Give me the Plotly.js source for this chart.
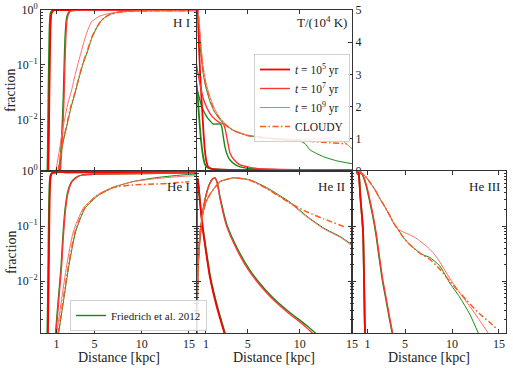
<!DOCTYPE html>
<html>
<head>
<meta charset="utf-8">
<script src="https://cdn.plot.ly/plotly-3.0.1.min.js"></script>
<style>
  html, body { margin: 0; padding: 0; background: #fff; }
  #chart { width: 513px; height: 368px; }
</style>
</head>
<body>
<div id="chart"></div>
<script>
// ---------------- data ----------------

// H I fraction (top left)
const hiRed5X = [0.12, 0.18, 0.24, 0.3, 0.36, 0.45, 0.6, 0.8, 1.2, 15.8];
const hiRed5Y = [0.0011, 0.004, 0.03, 0.15, 0.5, 0.85, 0.96, 0.99, 1.0, 1.0];
const hiGrn5X = [0.03, 0.08, 0.14, 0.2, 0.26, 0.35, 0.5, 0.7, 1.1, 15.8];
const hiGrn5Y = [0.0011, 0.004, 0.03, 0.15, 0.5, 0.85, 0.96, 0.99, 1.0, 1.0];
const hiRed7X = [1.4, 1.55, 1.7, 1.8, 1.88, 1.97, 2.1, 2.3, 2.6, 3.2, 15.8];
const hiRed7Y = [0.0011, 0.003, 0.01, 0.03, 0.1, 0.3, 0.65, 0.88, 0.97, 0.99, 1.0];
const hiGrn7X = [1.32, 1.47, 1.62, 1.72, 1.8, 1.89, 2.02, 2.22, 2.52, 3.1, 15.8];
const hiGrn7Y = [0.0011, 0.003, 0.01, 0.03, 0.1, 0.3, 0.65, 0.88, 0.97, 0.99, 1.0];
const hiRed9X = [0.93, 1.3, 1.7, 2.2, 2.6, 3.0, 3.46, 3.8, 4.17, 4.7, 5.6, 7.0, 9.0, 12, 15.8];
const hiRed9Y = [0.00115, 0.0028, 0.0074, 0.02, 0.035, 0.07, 0.14, 0.23, 0.376, 0.61, 0.78, 0.89, 0.95, 0.97, 0.97];
const hiGrn9X = [1.18, 1.6, 2.06, 2.5, 2.94, 3.4, 3.81, 4.3, 4.7, 5.23, 5.75, 6.45, 7.7, 9.8, 12.5, 15.8];
const hiGrn9Y = [0.00115, 0.0033, 0.0074, 0.016, 0.03, 0.06, 0.107, 0.18, 0.3, 0.47, 0.64, 0.81, 0.93, 0.97, 0.97, 0.97];
const hiCldX = [1.15, 1.6, 2.06, 2.5, 2.94, 3.4, 3.81, 4.3, 4.7, 5.23, 5.75, 6.45, 7.7, 9.8, 12.5, 15];
const hiCldY = [0.00115, 0.0034, 0.0077, 0.017, 0.031, 0.062, 0.11, 0.19, 0.31, 0.48, 0.65, 0.8, 0.92, 0.96, 0.965, 0.97];

// temperature in 10^4 K (top middle)
const tRed5X = [0.2, 0.3, 0.45, 0.6, 0.75, 0.9, 1.05, 1.22, 1.5, 2.0, 4, 8, 15.1];
const tRed5Y = [5.3, 4.2, 3.0, 2.15, 1.3, 0.65, 0.3, 0.13, 0.07, 0.05, 0.03, 0.03, 0.03];
const tGrn5X = [0.1, 0.2, 0.3, 0.42, 0.55, 0.74, 0.9, 1.07, 1.4, 1.7, 4, 8, 15.1];
const tGrn5Y = [2.72, 2.4, 1.9, 1.38, 0.9, 0.44, 0.22, 0.13, 0.08, 0.06, 0.03, 0.03, 0.03];
const tRed7X = [0.1, 0.42, 0.8, 1.38, 1.9, 2.35, 2.67, 2.85, 2.99, 3.15, 3.31, 3.7, 4.27, 5.87, 10, 15.1];
const tRed7Y = [3.3, 2.72, 2.2, 1.79, 1.6, 1.5, 1.46, 1.3, 1.07, 0.8, 0.55, 0.35, 0.19, 0.08, 0.04, 0.03];
const tGrn7X = [0.1, 0.26, 0.6, 1.07, 1.7, 2.35, 2.5, 2.65, 2.82, 3.05, 3.31, 3.8, 4.27, 5.87, 10, 15.1];
const tGrn7Y = [2.6, 2.41, 2.0, 1.69, 1.46, 1.46, 1.4, 1.1, 0.76, 0.5, 0.34, 0.2, 0.13, 0.06, 0.03, 0.03];
const tRed9X = [0.26, 0.5, 0.74, 1.0, 1.38, 1.8, 2.35, 3.0, 3.63, 4.91, 7.47, 10.04, 12, 13.2, 14.2, 15.07];
const tRed9Y = [5.0, 4.0, 3.24, 2.75, 2.31, 1.95, 1.64, 1.42, 1.27, 1.12, 1.01, 0.98, 1.0, 1.03, 0.91, 0.67];
const tGrn9X = [0.3, 0.5, 0.75, 1.0, 1.4, 1.8, 2.4, 3.0, 3.7, 5.0, 7.5, 10.0, 10.5, 11.0, 12.3, 13.5, 15.1];
const tGrn9Y = [4.6, 3.7, 3.0, 2.6, 2.15, 1.85, 1.58, 1.4, 1.25, 1.1, 1.0, 0.93, 0.85, 0.65, 0.44, 0.32, 0.22];
const tCldX = [0.3, 0.5, 0.75, 1.0, 1.4, 1.8, 2.4, 3.0, 3.7, 5.0, 7.5, 10.0, 12.0, 14.5];
const tCldY = [4.8, 3.8, 3.1, 2.65, 2.2, 1.88, 1.6, 1.4, 1.25, 1.1, 1.0, 0.94, 0.9, 0.84];

// He I fraction (bottom left)
const heiRed5X = [0.08, 0.14, 0.2, 0.26, 0.32, 0.4, 0.5, 0.7, 1.0, 2, 15.8];
const heiRed5Y = [0.0011, 0.005, 0.04, 0.25, 0.6, 0.82, 0.9, 0.93, 0.95, 0.95, 0.97];
const heiGrn5X = [0.02, 0.08, 0.14, 0.2, 0.26, 0.34, 0.44, 0.64, 0.94, 2, 15.8];
const heiGrn5Y = [0.0011, 0.005, 0.04, 0.25, 0.6, 0.82, 0.9, 0.93, 0.95, 0.95, 0.97];
const heiRed7X = [0.93, 1.2, 1.53, 1.7, 1.88, 2.05, 2.23, 2.5, 2.76, 3.3, 3.81, 5.58, 10, 15.8];
const heiRed7Y = [0.0011, 0.004, 0.019, 0.06, 0.155, 0.28, 0.42, 0.58, 0.68, 0.8, 0.85, 0.88, 0.9, 0.93];
const heiGrn7X = [0.88, 1.15, 1.48, 1.65, 1.83, 2.0, 2.18, 2.45, 2.71, 3.25, 3.76, 5.5, 10, 15.8];
const heiGrn7Y = [0.0011, 0.004, 0.019, 0.06, 0.155, 0.28, 0.42, 0.58, 0.68, 0.8, 0.85, 0.88, 0.9, 0.93];
const heiRed9X = [1.0, 1.53, 2.06, 2.76, 3.81, 5.23, 6.98, 9.09, 11.56, 14.73, 15.8];
const heiRed9Y = [0.0011, 0.0046, 0.019, 0.078, 0.21, 0.36, 0.51, 0.64, 0.73, 0.81, 0.82];
const heiGrn9X = [1.2, 1.75, 2.3, 3.0, 4.0, 5.4, 7.1, 9.2, 11.6, 14.7, 15.8];
const heiGrn9Y = [0.0011, 0.0046, 0.019, 0.078, 0.21, 0.36, 0.51, 0.65, 0.76, 0.86, 0.88];
const heiCldX = [1.15, 1.7, 2.25, 2.95, 3.95, 5.3, 7.0, 9.1, 11.5, 13.0, 15.0];
const heiCldY = [0.0011, 0.0046, 0.019, 0.078, 0.21, 0.36, 0.5, 0.56, 0.58, 0.6, 0.64];

// He II fraction (bottom middle)
const heiiRed5X = [0.1, 0.13, 0.16, 0.22, 0.35, 0.5, 0.68, 1.0, 1.38, 2.03, 2.5, 2.8];
const heiiRed5Y = [0.0011, 0.05, 0.7, 0.72, 0.4, 0.2, 0.095, 0.035, 0.012, 0.0035, 0.0017, 0.0011];
const heiiGrn5X = [0.1, 0.13, 0.16, 0.22, 0.36, 0.52, 0.7, 1.03, 1.42, 2.08, 2.55, 2.85];
const heiiGrn5Y = [0.0011, 0.05, 0.7, 0.72, 0.4, 0.2, 0.095, 0.035, 0.012, 0.0035, 0.0017, 0.0011];
const heiiRed7X = [0.1, 0.2, 0.35, 0.55, 0.74, 1.07, 1.38, 1.65, 1.87, 2.1, 2.35, 2.99, 3.95, 5.07, 5.87, 7.15, 8.76, 10.36, 11.3];
const heiiRed7Y = [0.004, 0.012, 0.04, 0.1, 0.2, 0.4, 0.6, 0.72, 0.75, 0.6, 0.32, 0.1, 0.038, 0.016, 0.01, 0.0053, 0.0028, 0.0016, 0.0011];
const heiiGrn7X = [0.1, 0.2, 0.35, 0.55, 0.74, 1.07, 1.38, 1.65, 1.87, 2.1, 2.38, 3.05, 4.05, 5.2, 6.0, 7.3, 8.95, 10.6, 11.6];
const heiiGrn7Y = [0.004, 0.012, 0.04, 0.1, 0.2, 0.4, 0.6, 0.72, 0.75, 0.6, 0.32, 0.1, 0.038, 0.016, 0.01, 0.0053, 0.0028, 0.0016, 0.0011];
const heiiRed9X = [0.12, 0.2, 0.3, 0.45, 0.7, 1.0, 1.4, 2.35, 3.63, 5.23, 6.83, 9.08, 10.7, 12.3, 13.9, 15.0];
const heiiRed9Y = [0.0011, 0.006, 0.03, 0.08, 0.17, 0.27, 0.38, 0.64, 0.75, 0.68, 0.48, 0.26, 0.145, 0.089, 0.062, 0.044];
const heiiGrn9X = [0.12, 0.2, 0.3, 0.45, 0.7, 1.0, 1.4, 2.35, 3.63, 5.23, 6.83, 9.08, 10.7, 12.3, 13.9, 15.0];
const heiiGrn9Y = [0.0011, 0.006, 0.03, 0.08, 0.17, 0.27, 0.38, 0.64, 0.75, 0.69, 0.5, 0.27, 0.15, 0.092, 0.064, 0.046];
const heiiCldX = [0.12, 0.2, 0.3, 0.45, 0.7, 1.0, 1.4, 2.35, 3.63, 5.23, 6.83, 9.08, 10.7, 12.3, 14.4];
const heiiCldY = [0.0011, 0.006, 0.03, 0.08, 0.17, 0.27, 0.38, 0.64, 0.75, 0.68, 0.48, 0.26, 0.18, 0.135, 0.095];

// He III fraction (bottom right)
const heiiiRed5X = [0, 0.1, 0.25, 0.4, 0.53, 0.62, 0.7, 0.75];
const heiiiRed5Y = [1, 0.8, 0.32, 0.16, 0.078, 0.015, 0.002, 0.0011];
const heiiiGrn5X = [0, 0.1, 0.25, 0.4, 0.53, 0.62, 0.7, 0.75];
const heiiiGrn5Y = [1, 0.8, 0.32, 0.16, 0.078, 0.015, 0.002, 0.0011];
const heiiiRed7X = [0, 0.18, 0.5, 0.89, 1.25, 1.6, 1.95, 2.31, 2.65, 3.02, 3.4, 3.72];
const heiiiRed7Y = [1, 0.98, 0.85, 0.55, 0.3, 0.155, 0.07, 0.025, 0.01, 0.0046, 0.002, 0.00105];
const heiiiGrn7X = [0, 0.16, 0.46, 0.84, 1.2, 1.55, 1.9, 2.26, 2.6, 2.97, 3.35, 3.67];
const heiiiGrn7Y = [1, 0.98, 0.85, 0.55, 0.3, 0.155, 0.07, 0.025, 0.01, 0.0046, 0.002, 0.00105];
const heiiiRed9X = [0, 0.18, 0.7, 1.24, 1.8, 2.31, 2.85, 3.37, 3.8, 4.26, 5.15, 6.0, 6.56, 7.3, 7.98, 8.7, 9.4, 10.1, 10.8, 11.9, 12.9, 14.0];
const heiiiRed9Y = [1, 0.977, 0.83, 0.63, 0.457, 0.316, 0.224, 0.155, 0.112, 0.087, 0.074, 0.063, 0.054, 0.043, 0.033, 0.0224, 0.0141, 0.0093, 0.0062, 0.0035, 0.002, 0.00105];
const heiiiGrn9X = [0, 0.18, 0.7, 1.24, 1.8, 2.31, 2.85, 3.37, 3.8, 4.26, 4.8, 5.4, 6.0, 6.74, 7.63, 8.69, 9.76, 10.8, 11.9, 12.9];
const heiiiGrn9Y = [1, 0.977, 0.83, 0.63, 0.457, 0.316, 0.224, 0.155, 0.112, 0.087, 0.063, 0.048, 0.039, 0.031, 0.027, 0.019, 0.0093, 0.0052, 0.0025, 0.00105];
const heiiiCldX = [0.1, 0.7, 1.24, 1.8, 2.31, 2.85, 3.37, 3.8, 4.26, 4.8, 5.4, 6.0, 6.74, 7.63, 8.69, 9.76, 10.8, 11.5, 12.9, 14.0, 14.7];
const heiiiCldY = [0.99, 0.83, 0.63, 0.457, 0.316, 0.224, 0.155, 0.112, 0.087, 0.063, 0.048, 0.039, 0.031, 0.025, 0.0166, 0.01, 0.0063, 0.0046, 0.0026, 0.0018, 0.0014];

// tick labels
const xTicks = [1, 5, 10, 15];
const logTicks = [0.01, 0.1, 1];
const logTickText = ['10<sup>−2</sup>', '10<sup>−1</sup>', '10<sup>0</sup>'];
const tTicks = [0, 1, 2, 3, 4, 5];


//---------------------------------------------------------------------------------------------------------------//


const serif = 'Liberation Serif';

// line styles for the three epochs, the reference code and CLOUDY
const styles = {
  red5: { color: '#ff0000', width: 1.8 },
  red7: { color: '#ff3636', width: 1.4 },
  red9: { color: '#ff6a6a', width: 1 },
  grn5: { color: '#138a13', width: 1.8 },
  grn7: { color: '#138a13', width: 1.4 },
  grn9: { color: '#138a13', width: 1 },
  cld: { color: '#ff5a1a', width: 1.5, dash: '6px,2.5px,1.5px,2.5px' }
};

const traces = [];

// make one line trace on the given axes
const addLine = (x, y, axis, style, extra) => {
  traces.push(Object.assign({
    x: x, y: y,
    xaxis: 'x' + axis, yaxis: 'y' + axis,
    type: 'scatter', mode: 'lines',
    line: Object.assign({ shape: 'spline', smoothing: 0.5 }, styles[style]),
    showlegend: false, hoverinfo: 'skip'
  }, extra || {}));
};

// green first, then red, then CLOUDY on top
addLine(hiGrn5X, hiGrn5Y, '', 'grn5');
addLine(hiGrn7X, hiGrn7Y, '', 'grn7');
addLine(hiGrn9X, hiGrn9Y, '', 'grn9');
addLine(tGrn5X, tGrn5Y, '2', 'grn5');
addLine(tGrn7X, tGrn7Y, '2', 'grn7');
addLine(tGrn9X, tGrn9Y, '2', 'grn9');
addLine(heiGrn5X, heiGrn5Y, '3', 'grn5');
addLine(heiGrn7X, heiGrn7Y, '3', 'grn7', { showlegend: true, name: 'Friedrich et al. 2012', legend: 'legend2' });
addLine(heiGrn9X, heiGrn9Y, '3', 'grn9');
addLine(heiiGrn5X, heiiGrn5Y, '4', 'grn5');
addLine(heiiGrn7X, heiiGrn7Y, '4', 'grn7');
addLine(heiiGrn9X, heiiGrn9Y, '4', 'grn9');
addLine(heiiiGrn5X, heiiiGrn5Y, '5', 'grn5');
addLine(heiiiGrn7X, heiiiGrn7Y, '5', 'grn7');
addLine(heiiiGrn9X, heiiiGrn9Y, '5', 'grn9');

addLine(hiRed5X, hiRed5Y, '', 'red5');
addLine(hiRed7X, hiRed7Y, '', 'red7');
addLine(hiRed9X, hiRed9Y, '', 'red9');
addLine(tRed5X, tRed5Y, '2', 'red5', { showlegend: true, name: '<i>t</i> = 10<sup>5</sup> yr', legendrank: 1 });
addLine(tRed7X, tRed7Y, '2', 'red7', { showlegend: true, name: '<i>t</i> = 10<sup>7</sup> yr', legendrank: 2 });
addLine(tRed9X, tRed9Y, '2', 'red9', { showlegend: true, name: '<i>t</i> = 10<sup>9</sup> yr', legendrank: 3 });
addLine(heiRed5X, heiRed5Y, '3', 'red5');
addLine(heiRed7X, heiRed7Y, '3', 'red7');
addLine(heiRed9X, heiRed9Y, '3', 'red9');
addLine(heiiRed5X, heiiRed5Y, '4', 'red5');
addLine(heiiRed7X, heiiRed7Y, '4', 'red7');
addLine(heiiRed9X, heiiRed9Y, '4', 'red9');
addLine(heiiiRed5X, heiiiRed5Y, '5', 'red5');
addLine(heiiiRed7X, heiiiRed7Y, '5', 'red7');
addLine(heiiiRed9X, heiiiRed9Y, '5', 'red9');

addLine(hiCldX, hiCldY, '', 'cld');
addLine(tCldX, tCldY, '2', 'cld', { showlegend: true, name: 'CLOUDY', legendrank: 4 });
addLine(heiCldX, heiCldY, '3', 'cld');
addLine(heiiCldX, heiiCldY, '4', 'cld');
addLine(heiiiCldX, heiiiCldY, '5', 'cld');


//---------------------------------------------------------------------------------------------------------------//


// panel edges in pixels, turned into paper fractions
const W = 513, H = 368;
const px = (a, b) => [a / W, b / W];
const py = (top, bottom) => [1 - bottom / H, 1 - top / H];

const colLeft = px(41, 196);
const colMid = px(196.5, 352);
const colRight = px(352, 506);
const rowTop = py(10, 171);
const rowBottom = py(171, 333);

// minor tick positions for the log axes
const minorVals = [];
[0.001, 0.01, 0.1].forEach(d => {
  for (let m = 2; m <= 9; m++) minorVals.push(d * m);
});

const textFont = (size) => ({ family: serif, size: size, color: '#222' });

const baseAxis = {
  showline: true, linecolor: '#333', linewidth: 1, mirror: 'ticks',
  ticks: 'inside', ticklen: 4, tickcolor: '#333', tickwidth: 1,
  showgrid: false, zeroline: false,
  tickfont: textFont(12)
};

const xAxis = (domain, range, anchor, labels) => Object.assign({}, baseAxis, {
  domain: domain, range: range, anchor: anchor,
  tickmode: 'array', tickvals: xTicks, showticklabels: labels
});

const logAxis = (domain, anchor, labels) => Object.assign({}, baseAxis, {
  domain: domain, anchor: anchor, type: 'log', range: [-2.94, 0],
  tickmode: 'array', tickvals: logTicks, ticktext: logTickText, showticklabels: labels,
  minor: { tickmode: 'array', tickvals: minorVals, ticks: 'inside', ticklen: 2, tickcolor: '#333' }
});

const wideRange = [-0.65, 15.75];
const midRange = [0.1, 15];

// text labels: panel names (right aligned), axis titles
const panelLabels = [
  { text: 'H I', x: 192, y: 22 },
  { text: 'T/(10<sup>4</sup> K)', x: 349, y: 22 },
  { text: 'He I', x: 192, y: 186 },
  { text: 'He II', x: 347, y: 186 },
  { text: 'He III', x: 502, y: 186 }
];
const axisLabels = [
  { text: 'Distance [kpc]', x: 118.5, y: 357.5, angle: 0 },
  { text: 'Distance [kpc]', x: 274, y: 357.5, angle: 0 },
  { text: 'Distance [kpc]', x: 429, y: 357.5, angle: 0 },
  { text: 'fraction', x: 11, y: 90, angle: -90 },
  { text: 'fraction', x: 11, y: 252, angle: -90 }
];

const annotations = panelLabels.map(a => ({
  text: a.text, x: a.x / W, y: 1 - a.y / H,
  xref: 'paper', yref: 'paper', xanchor: 'right', yanchor: 'middle',
  showarrow: false, font: textFont(13)
})).concat(axisLabels.map(a => ({
  text: a.text, x: a.x / W, y: 1 - a.y / H, textangle: a.angle,
  xref: 'paper', yref: 'paper', xanchor: 'center', yanchor: 'middle',
  showarrow: false, font: textFont(14)
})));

const layout = {
  width: W, height: H,
  margin: { l: 0, r: 0, t: 0, b: 0 },
  paper_bgcolor: '#fff', plot_bgcolor: '#fff',
  font: textFont(12),
  xaxis: xAxis(colLeft, wideRange, 'y', false),
  yaxis: logAxis(rowTop, 'x', true),
  xaxis2: xAxis(colMid, midRange, 'y2', false),
  yaxis2: Object.assign({}, baseAxis, {
    domain: rowTop, anchor: 'x2', range: [0, 5], side: 'right',
    tickmode: 'array', tickvals: tTicks
  }),
  xaxis3: xAxis(colLeft, wideRange, 'y3', true),
  yaxis3: logAxis(rowBottom, 'x3', true),
  xaxis4: xAxis(colMid, midRange, 'y4', true),
  yaxis4: logAxis(rowBottom, 'x4', false),
  xaxis5: xAxis(colRight, wideRange, 'y5', true),
  yaxis5: logAxis(rowBottom, 'x5', false),
  legend: {
    x: 254 / W, y: 1 - 54 / H, xanchor: 'left', yanchor: 'top',
    bgcolor: 'rgba(255,255,255,0.85)', bordercolor: '#d0d0d0', borderwidth: 1,
    font: textFont(11.5), tracegroupgap: 0
  },
  legend2: {
    x: 70 / W, y: 1 - 331 / H, xanchor: 'left', yanchor: 'bottom',
    bgcolor: 'rgba(255,255,255,0.85)', bordercolor: '#d0d0d0', borderwidth: 1,
    font: textFont(11)
  },
  annotations: annotations
};

Plotly.newPlot('chart', traces, layout, { displayModeBar: false, staticPlot: true });
</script>
</body>
</html>
